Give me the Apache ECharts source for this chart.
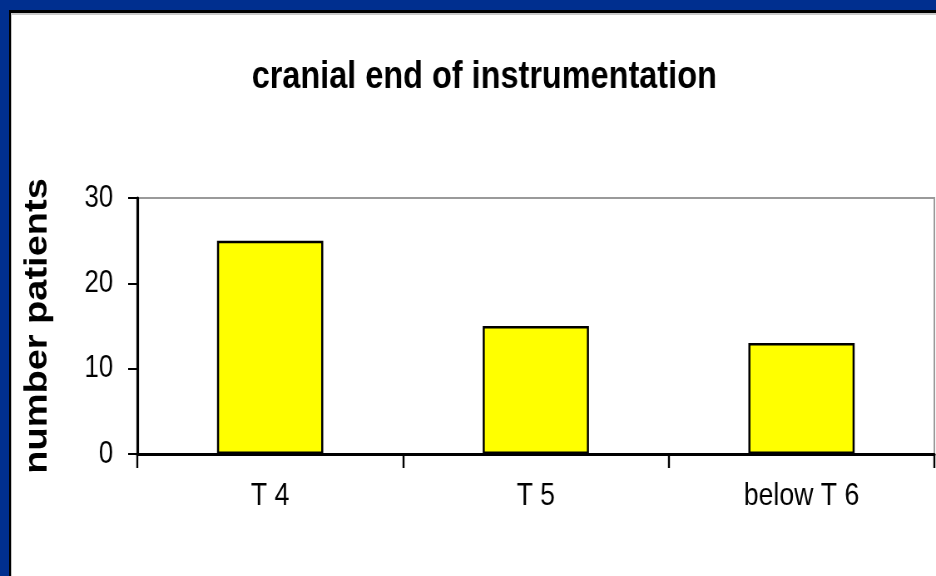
<!DOCTYPE html>
<html>
<head>
<meta charset="utf-8">
<script src="https://cdn.jsdelivr.net/npm/echarts@6/dist/echarts.min.js"></script>
<style>
html,body{margin:0;padding:0;width:936px;height:576px;overflow:hidden;}
.f{position:absolute;}
#blue{left:0;top:0;width:936px;height:576px;background:#002f8f;}
#black{left:9px;top:10px;width:927px;height:566px;background:#000;}
#grey{left:11px;top:13px;width:925px;height:563px;background:#c8c8c8;}
#white{left:12px;top:15px;width:924px;height:561px;background:#fff;}
/* the reference looks horizontally condensed: draw wider, then squeeze */
#chart{left:0;top:0;width:1125px;height:576px;transform:scaleX(0.832);transform-origin:0 0;}
</style>
</head>
<body>
<div class="f" id="blue"></div>
<div class="f" id="black"></div>
<div class="f" id="grey"></div>
<div class="f" id="white"></div>
<div class="f" id="chart"></div>
<script>
const titleText = 'cranial end of instrumentation';
const yAxisName = 'number patients';
const categories = ['T 4', 'T 5', 'below T 6'];
const patients = [25, 15, 13];
const yTicks = { min: 0, max: 30, interval: 10 };

const chart = echarts.init(document.getElementById('chart'), null, { renderer: 'canvas' });
const font = '"Liberation Sans", Arial, sans-serif';
chart.setOption({
  animation: false,
  title: {
    text: titleText,
    left: 577, top: 53, textAlign: 'center',
    textStyle: { fontFamily: font, fontWeight: 'bold', fontSize: 39, color: '#000' }
  },
  grid: {
    left: 165, top: 198, right: 2, bottom: 122,
    show: true, borderColor: '#9a9a9a', borderWidth: 2, backgroundColor: 'transparent'
  },
  xAxis: {
    type: 'category',
    data: categories,
    boundaryGap: true,
    axisLine: { lineStyle: { color: '#000', width: 3 } },
    axisTick: { show: true, length: 14, lineStyle: { color: '#000', width: 2.4 } },
    axisLabel: { margin: 26, fontFamily: font, fontSize: 32, color: '#000' }
  },
  yAxis: {
    type: 'value',
    min: yTicks.min, max: yTicks.max, interval: yTicks.interval,
    name: yAxisName,
    nameLocation: 'middle',
    nameGap: 100,
    nameTextStyle: { fontFamily: font, fontWeight: 'bold', fontSize: 38, color: '#000' },
    axisLine: { show: true, lineStyle: { color: '#000', width: 3.2 } },
    axisTick: { show: true, length: 11, lineStyle: { color: '#000', width: 2 } },
    splitLine: { show: false },
    axisLabel: { margin: 29, fontFamily: font, fontSize: 31, color: '#000' }
  },
  series: [{
    type: 'bar',
    data: patients,
    barWidth: '40%',
    itemStyle: { color: '#ffff00', borderColor: '#000', borderWidth: 2.5 }
  }]
});
</script>
</body>
</html>
